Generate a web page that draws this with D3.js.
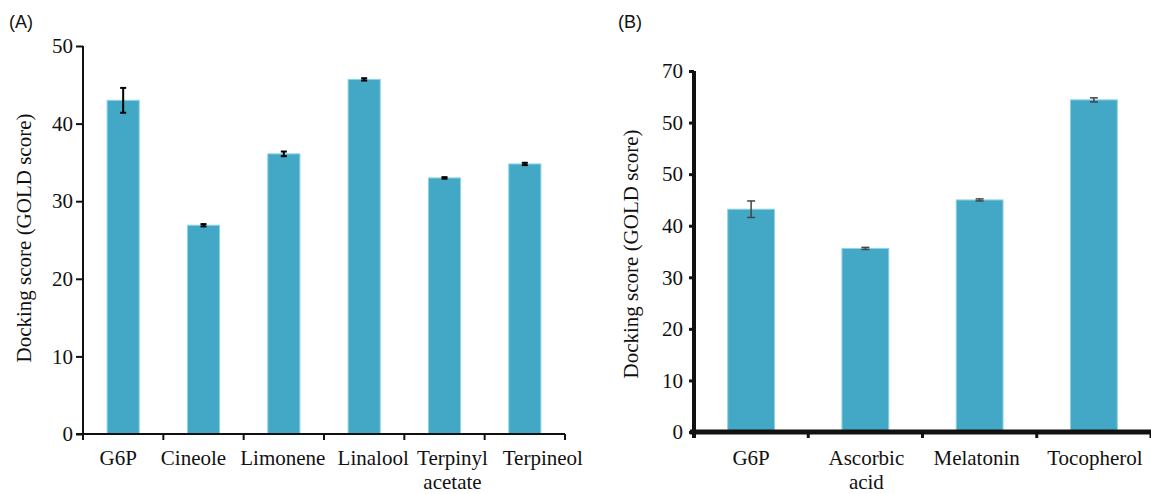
<!DOCTYPE html>
<html>
<head>
<meta charset="utf-8">
<script src="https://cdnjs.cloudflare.com/ajax/libs/d3/7.8.5/d3.min.js"></script>
<style>
  body { margin: 0; background: #fff; }
</style>
</head>
<body>
<svg id="chart" width="1151" height="494"></svg>
<script>
// Panel A data
var catsA = ["G6P", "Cineole", "Limonene", "Linalool", "Terpinyl\nacetate", "Terpineol"];
var valsA = [43.0, 26.9, 36.1, 45.7, 33.0, 34.8];
var errsA = [1.6, 0.15, 0.3, 0.15, 0.1, 0.15];
var ticksA = [0, 10, 20, 30, 40, 50];

// Panel B data
var catsB = ["G6P", "Ascorbic\nacid", "Melatonin", "Tocopherol"];
var valsB = [43.2, 35.6, 45.0, 64.4];
var errsB = [1.6, 0.2, 0.2, 0.4];
var ticksB = [0, 10, 20, 30, 40, 50, 60, 70];
var tickLabelsB = ["0", "10", "20", "30", "40", "50", "50", "70"]; // as printed in the figure

var serif = "'Liberation Serif', 'DejaVu Serif', 'Times New Roman', serif";
var svg = d3.select("#chart");
var barColor = "#42a8c5";

function panel(opts) {
  var g = svg.append("g");

  var x = d3.scaleBand()
      .domain(opts.cats)
      .range([opts.left, opts.right])
      .padding(0);

  var y = d3.scaleLinear()
      .domain([0, opts.max])
      .range([opts.bottom, opts.top]);

  var data = opts.cats.map(function(c, i) {
    return { name: c, value: opts.vals[i], err: opts.errs[i], i: i };
  });

  var bw = x.bandwidth() * opts.barFrac;

  // bars
  g.selectAll(".bar")
      .data(data)
      .enter().append("rect")
      .attr("class", "bar")
      .attr("fill", barColor)
      .attr("stroke", "#8fd3e6")
      .attr("stroke-width", 1)
      .attr("x", function(d) { return x(d.name) + (x.bandwidth() - bw) / 2; })
      .attr("width", bw)
      .attr("y", function(d) { return y(d.value); })
      .attr("height", function(d) { return y(0) - y(d.value); });

  // error bars
  var eb = g.selectAll(".err")
      .data(data)
      .enter().append("g")
      .attr("stroke", opts.errColor)
      .attr("stroke-width", opts.errWidth);
  eb.append("line")
      .attr("x1", function(d) { return x(d.name) + x.bandwidth() / 2; })
      .attr("x2", function(d) { return x(d.name) + x.bandwidth() / 2; })
      .attr("y1", function(d) { return y(d.value + d.err); })
      .attr("y2", function(d) { return y(d.value - d.err); });
  [1, -1].forEach(function(s) {
    eb.append("line")
        .attr("x1", function(d) { return x(d.name) + x.bandwidth() / 2 - opts.cap; })
        .attr("x2", function(d) { return x(d.name) + x.bandwidth() / 2 + opts.cap; })
        .attr("y1", function(d) { return y(d.value + s * d.err); })
        .attr("y2", function(d) { return y(d.value + s * d.err); });
  });

  // y axis
  var yAxis = g.append("g")
      .attr("transform", "translate(" + opts.left + ",0)")
      .call(d3.axisLeft(y)
        .tickValues(opts.ticks)
        .tickSize(opts.tickLen)
        .tickPadding(opts.yPad)
        .tickFormat(function(d, i) { return opts.tickLabels ? opts.tickLabels[i] : d; }));
  yAxis.select(".domain").remove();
  yAxis.append("line")
      .attr("x1", 0).attr("x2", 0)
      .attr("y1", y(opts.max)).attr("y2", y(0) + opts.xTickLen)
      .attr("stroke", "#111")
      .attr("stroke-width", opts.yAxisWidth);
  yAxis.selectAll(".tick line").attr("stroke", "#111").attr("stroke-width", opts.tickWidth);
  yAxis.selectAll(".tick text")
      .style("font-family", serif)
      .style("font-size", "21px")
      .attr("fill", "#111");

  // x axis: labels under bands, ticks at band boundaries
  var xAxis = g.append("g")
      .attr("transform", "translate(0," + y(0) + ")")
      .call(d3.axisBottom(x).tickSize(0).tickFormat(""));
  xAxis.select(".domain").remove();
  xAxis.append("line")
      .attr("x1", opts.left - opts.xExtendLeft).attr("x2", opts.right)
      .attr("y1", 0).attr("y2", 0)
      .attr("stroke", "#111")
      .attr("stroke-width", opts.xAxisWidth);
  var bounds = opts.cats.map(function(c) { return x(c); }).concat([x.range()[1]]);
  xAxis.selectAll(".bound")
      .data(bounds)
      .enter().append("line")
      .attr("x1", function(d) { return d; })
      .attr("x2", function(d) { return d; })
      .attr("y1", 0)
      .attr("y2", opts.xTickLen)
      .attr("stroke", "#111")
      .attr("stroke-width", opts.tickWidth);

  var labels = xAxis.selectAll(".lab")
      .data(data)
      .enter().append("text")
      .attr("text-anchor", "middle")
      .attr("fill", "#111")
      .style("font-family", serif)
      .style("font-size", "21px")
      .attr("transform", function(d) {
        var dx = opts.labelDx ? opts.labelDx[d.i] : 0;
        return "translate(" + (x(d.name) + x.bandwidth() / 2 + dx) + "," + opts.labelY + ")";
      });
  labels.each(function(d) {
    var t = d3.select(this);
    d.name.split("\n").forEach(function(line, i) {
      t.append("tspan").attr("x", 0).attr("dy", i === 0 ? 0 : opts.lineGap).text(line);
    });
  });

  // y axis title
  g.append("text")
      .attr("transform", "translate(" + opts.titleX + "," + opts.titleY + ") rotate(-90)")
      .attr("text-anchor", "middle")
      .attr("fill", "#111")
      .style("font-family", serif)
      .style("font-size", opts.titleSize)
      .text("Docking score (GOLD score)");

  // panel letter
  svg.append("text")
      .attr("x", opts.letterX)
      .attr("y", 28)
      .attr("fill", "#111")
      .style("font-family", "'Liberation Sans', Arial, sans-serif")
      .style("font-size", "18px")
      .text(opts.letter);
}

panel({
  cats: catsA, vals: valsA, errs: errsA, ticks: ticksA, max: 50,
  left: 83, right: 565, top: 46, bottom: 434,
  barFrac: 0.4, errColor: "#000", errWidth: 2, cap: 3,
  tickLen: 7, tickWidth: 2, yPad: 3, yAxisWidth: 2,
  xAxisWidth: 2, xTickLen: 6, xExtendLeft: 7, labelY: 31, lineGap: 24,
  labelDx: [-5, -10, -1, 9, 8, 18],
  titleX: 31, titleY: 238, titleSize: "21px",
  letter: "(A)", letterX: 9
});

panel({
  cats: catsB, vals: valsB, errs: errsB, ticks: ticksB, tickLabels: tickLabelsB, max: 70,
  left: 694, right: 1151, top: 71, bottom: 432,
  barFrac: 0.41, errColor: "#444", errWidth: 1.5, cap: 4,
  tickLen: 5, tickWidth: 3, yPad: 6, yAxisWidth: 4,
  xAxisWidth: 5, xTickLen: 6, xExtendLeft: 4, labelY: 33, lineGap: 24,
  labelDx: [0, 1, -3, 1],
  titleX: 638, titleY: 254, titleSize: "21px",
  letter: "(B)", letterX: 618
});
</script>
</body>
</html>
